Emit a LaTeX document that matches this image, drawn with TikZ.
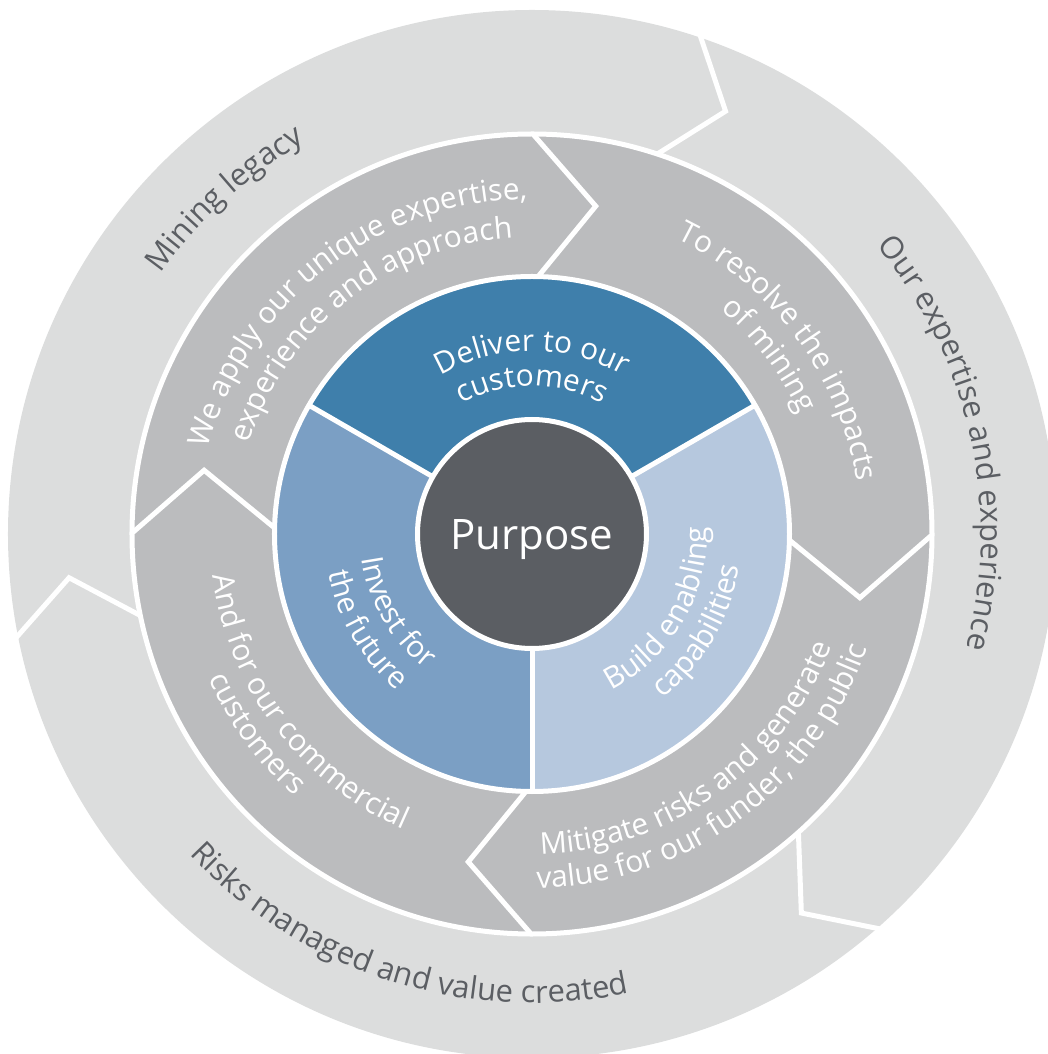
\documentclass[tikz,border=0pt]{standalone}
\usepackage{fontspec}
\setmainfont{Open Sans}
\usetikzlibrary{decorations.text}
\definecolor{outerg}{HTML}{DCDDDD}
\definecolor{midg}{HTML}{BBBCBE}
\definecolor{deliverc}{HTML}{3F7FAB}
\definecolor{investc}{HTML}{7B9FC4}
\definecolor{buildc}{HTML}{B6C8DE}
\definecolor{purposec}{HTML}{5B5E63}
\definecolor{labelc}{HTML}{5B5E63}
% clockwise text (letter tops outward): radius, centre angle, size, colour, text
\newcommand\cwtext[5]{%
  \pgfmathsetmacro\arcS{#2+85}\pgfmathsetmacro\arcE{#2-85}%
  \path[decorate,decoration={text along path,text align=center,text color=#4,
    text={|\fontsize{#3}{#3}\selectfont|#5}}]
    (\arcS:#1pt) arc[start angle=\arcS,end angle=\arcE,radius=#1pt];}
% counter-clockwise text (letter tops inward)
\newcommand\ccwtext[5]{%
  \pgfmathsetmacro\arcS{#2-85}\pgfmathsetmacro\arcE{#2+85}%
  \path[decorate,decoration={text along path,text align=center,text color=#4,
    text={|\fontsize{#3}{#3}\selectfont|#5}}]
    (\arcS:#1pt) arc[start angle=\arcS,end angle=\arcE,radius=#1pt];}
\tikzset{sepline/.style={white,line width=5pt,line join=miter,miter limit=10}}
\begin{document}
\begin{tikzpicture}
\useasboundingbox (-532pt,-520pt) rectangle (515pt,534pt);
% outer ring
\fill[outerg] (0,0) circle[radius=524pt];
\foreach \b in {72,-48,192}{
  \pgfmathsetmacro\tp{\b-6.6}
  \draw[sepline] (\b:398pt) -- (\tp:465pt) -- (\b:534pt);}
% middle ring
\filldraw[fill=midg,draw=white,line width=5pt] (0,0) circle[radius=400pt];
\foreach \b in {90,0,-90,180}{
  \pgfmathsetmacro\tp{\b-11}
  \draw[sepline] (\b:250pt) -- (\tp:334pt) -- (\b:401pt);}
% inner sectors
\fill[deliverc] (0,0) -- (30:258pt) arc[start angle=30,end angle=150,radius=258pt] -- cycle;
\fill[investc] (0,0) -- (150:258pt) arc[start angle=150,end angle=270,radius=258pt] -- cycle;
\fill[buildc] (0,0) -- (-90:258pt) arc[start angle=-90,end angle=30,radius=258pt] -- cycle;
\draw[white,line width=5pt] (0,0) circle[radius=257.5pt];
\foreach \a in {30,150,270} \draw[white,line width=5pt] (0,0) -- (\a:258pt);
\node[circle,fill=purposec,draw=white,line width=5pt,minimum size=229pt,inner sep=0pt] (purpose) at (0,0) {};
\node[text=white,font=\fontsize{42}{42}\selectfont,inner sep=0pt] (purposetext) at (0pt,-6pt) {Purpose};
% outer labels
\cwtext{453}{132.5}{31}{labelc}{Mining legacy}
\cwtext{449}{12.6}{31}{labelc}{Our expertise and experience}
\ccwtext{469}{252.5}{31}{labelc}{Risks managed and value created}
% middle labels
\cwtext{335}{128}{30}{white}{We apply our unique expertise,}
\cwtext{297}{128}{30}{white}{experience and approach}
\cwtext{329}{36.5}{30}{white}{To resolve the impacts}
\cwtext{293}{37}{30}{white}{of mining}
\ccwtext{320}{-54.5}{30}{white}{Mitigate risks and generate}
\ccwtext{354}{-54}{30}{white}{value for our funder, the public}
\ccwtext{322}{217}{30}{white}{And for our commercial}
\ccwtext{354}{216}{30}{white}{customers}
% inner labels
\cwtext{183}{90}{30}{white}{Deliver to our}
\cwtext{148}{90}{30}{white}{customers}
\ccwtext{172}{210}{30}{white}{Invest for}
\ccwtext{207}{210}{30}{white}{the future}
\ccwtext{175}{-30.3}{30}{white}{Build enabling}
\ccwtext{210}{-30.2}{30}{white}{capabilities}
\end{tikzpicture}
\end{document}
